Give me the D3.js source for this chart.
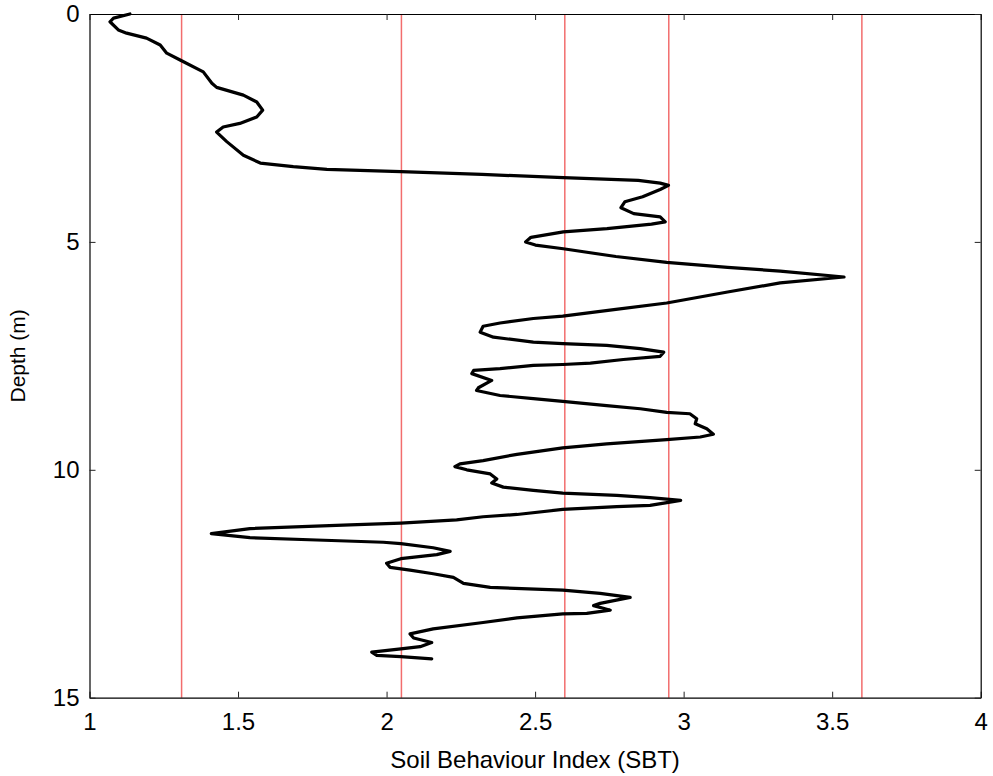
<!DOCTYPE html>
<html>
<head>
<meta charset="utf-8">
<script src="https://cdn.jsdelivr.net/npm/d3@7"></script>
<style>
  body { margin: 0; background: #fff; }
  svg text { font-family: "Liberation Sans", Arial, sans-serif; }
</style>
</head>
<body>
<svg id="chart" width="993" height="776"></svg>
<script>
// SBT index profile (depth in m, index)
var depth = [0.00,0.09,0.17,0.35,0.42,0.53,0.68,0.86,1.01,1.27,1.52,1.61,1.78,1.93,2.11,2.26,2.40,2.48,2.59,2.80,
  3.10,3.27,3.35,3.41,3.43,3.46,3.52,3.59,3.65,3.71,3.76,3.85,4.01,4.12,4.25,4.38,4.45,4.56,4.61,4.71,
  4.78,4.90,5.00,5.07,5.15,5.32,5.45,5.56,5.64,5.77,5.90,6.10,6.34,6.48,6.63,6.68,6.78,6.85,6.98,7.09,
  7.20,7.23,7.27,7.34,7.42,7.51,7.58,7.66,7.69,7.71,7.78,7.82,7.89,8.04,8.20,8.26,8.37,8.44,8.50,8.59,
  8.66,8.74,8.77,8.88,8.99,9.10,9.22,9.28,9.34,9.43,9.52,9.66,9.80,9.87,9.93,10.00,10.09,10.20,10.29,10.38,
  10.45,10.51,10.56,10.61,10.67,10.78,10.81,10.87,10.98,11.03,11.10,11.17,11.21,11.29,11.40,11.49,11.54,11.59,11.62,11.71,
  11.79,11.86,11.95,12.05,12.14,12.20,12.28,12.36,12.49,12.58,12.64,12.71,12.80,12.93,12.98,13.08,13.15,13.16,13.25,13.35,
  13.49,13.60,13.69,13.79,13.88,13.93,14.00,14.07,14.10,14.15];
var sbt = [1.136,1.081,1.069,1.097,1.125,1.192,1.238,1.260,1.305,1.383,1.412,1.428,1.518,1.563,1.583,1.563,1.506,1.450,1.428,1.462,
  1.518,1.575,1.686,1.799,1.910,2.048,2.321,2.595,2.847,2.921,2.949,2.921,2.862,2.802,2.789,2.832,2.921,2.938,2.892,2.742,
  2.595,2.486,2.468,2.501,2.595,2.772,2.943,3.148,3.325,3.540,3.325,3.148,2.943,2.772,2.593,2.494,2.382,2.325,2.315,2.360,
  2.494,2.593,2.741,2.854,2.933,2.921,2.797,2.686,2.593,2.494,2.382,2.293,2.287,2.354,2.309,2.303,2.382,2.494,2.593,2.741,
  2.854,2.943,3.021,3.044,3.039,3.078,3.100,3.056,2.943,2.741,2.593,2.439,2.325,2.247,2.230,2.270,2.349,2.371,2.354,2.393,
  2.494,2.593,2.775,2.887,2.990,2.887,2.775,2.593,2.439,2.325,2.236,2.048,1.877,1.540,1.410,1.540,1.765,1.989,2.048,2.157,
  2.214,2.169,2.048,2.000,2.012,2.079,2.157,2.225,2.259,2.349,2.593,2.719,2.820,2.719,2.697,2.753,2.674,2.593,2.439,2.325,
  2.157,2.079,2.091,2.152,2.113,2.048,1.950,1.967,2.048,2.152];

// SBT zone boundaries
var boundaries = [1.31, 2.05, 2.60, 2.95, 3.60];

var xTicks = [1, 1.5, 2, 2.5, 3, 3.5, 4];
var yTicks = [0, 5, 10, 15];

var margin = {top: 14, right: 12.3, bottom: 78.3, left: 89.5},
    width = 993 - margin.left - margin.right,
    height = 776 - margin.top - margin.bottom;

var svg = d3.select("#chart")
  .append("g")
  .attr("transform", "translate(" + margin.left + "," + margin.top + ")");

var x = d3.scaleLinear().domain([1, 4]).range([0, width]);
var y = d3.scaleLinear().domain([0, 15]).range([0, height]);

// zone lines
svg.selectAll("line.bound")
  .data(boundaries)
  .enter()
  .append("line")
  .attr("class", "bound")
  .attr("x1", function(d) { return x(d); })
  .attr("x2", function(d) { return x(d); })
  .attr("y1", 0)
  .attr("y2", height)
  .attr("stroke", "#f26d6d")
  .attr("stroke-width", 1.5);

// profile
var pts = depth.map(function(d, i) { return [sbt[i], d]; });
svg.append("path")
  .datum(pts)
  .attr("fill", "none")
  .attr("stroke", "#000")
  .attr("stroke-width", 3.2)
  .attr("stroke-linejoin", "round")
  .attr("stroke-linecap", "round")
  .attr("d", d3.line()
    .x(function(d) { return x(d[0]); })
    .y(function(d) { return y(d[1]); }));

// axes, matlab style: ticks inward, box all round
var tickLen = 6;
var xAxis = svg.append("g")
  .attr("transform", "translate(0," + height + ")")
  .call(d3.axisBottom(x).tickValues(xTicks).tickSizeInner(-tickLen).tickSizeOuter(0)
    .tickFormat(d3.format("")).tickPadding(15));
var yAxis = svg.append("g")
  .call(d3.axisLeft(y).tickValues(yTicks).tickSizeInner(-tickLen).tickSizeOuter(0)
    .tickFormat(d3.format("")).tickPadding(10));
var xTop = svg.append("g")
  .call(d3.axisTop(x).tickValues(xTicks).tickSizeInner(-tickLen).tickSizeOuter(0).tickFormat(""));
var yRight = svg.append("g")
  .attr("transform", "translate(" + width + ",0)")
  .call(d3.axisRight(y).tickValues(yTicks).tickSizeInner(-tickLen).tickSizeOuter(0).tickFormat(""));

[xAxis, yAxis, xTop, yRight].forEach(function(g) {
  g.select(".domain").attr("stroke", "#000").attr("stroke-width", 1.2);
  g.selectAll(".tick line").attr("stroke", "#222");
  g.selectAll("text").attr("font-size", 24).attr("fill", "#000")
    .style("font-family", "'Liberation Sans', Arial, sans-serif");
});

// axis titles
svg.append("text")
  .attr("x", width / 2)
  .attr("y", height + 70)
  .attr("text-anchor", "middle")
  .attr("font-size", 24)
  .text("Soil Behaviour Index (SBT)");

svg.append("text")
  .attr("transform", "translate(-65," + (height / 2) + ") rotate(-90)")
  .attr("text-anchor", "middle")
  .attr("font-size", 21)
  .text("Depth (m)");
</script>
</body>
</html>
